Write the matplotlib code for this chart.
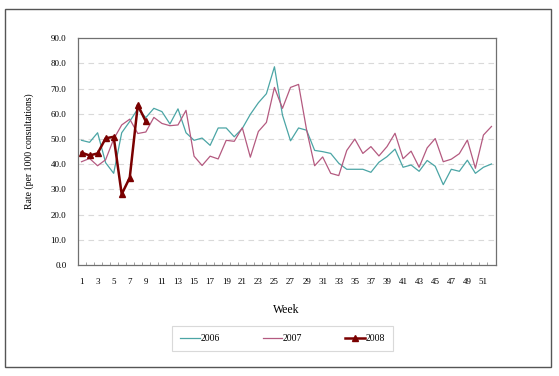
import numpy as np
import matplotlib
matplotlib.use('Agg')
import matplotlib.pyplot as plt
from matplotlib.patches import Rectangle

# Semanas e taxas por ano
weeks = np.arange(1, 53)
rate_2006 = [49.5, 48.7, 52.5, 40.6, 36.4, 52.5, 57.0, 62.0, 58.5, 62.2,
             60.9, 56.0, 62.0, 52.5, 49.5, 50.4, 47.5, 54.4, 54.4, 50.9,
             54.2, 59.8, 64.4, 68.0, 78.7, 59.5, 49.3, 54.4, 53.5, 45.5,
             45.0, 44.3, 40.4, 38.0, 38.0, 38.0, 36.8, 40.8, 43.0, 46.0,
             38.8, 39.7, 37.2, 41.5, 39.2, 31.9, 38.0, 37.2, 41.6, 36.4,
             38.8, 40.1]
rate_2007 = [41.0, 42.3, 39.4, 41.8, 50.0, 55.6, 57.9, 52.2, 52.8, 58.6,
             56.2, 55.3, 55.6, 61.4, 43.2, 39.5, 43.2, 42.1, 49.5, 49.1,
             54.5, 42.8, 53.0, 56.6, 70.5, 62.2, 70.5, 71.7, 53.6, 39.4,
             42.9, 36.4, 35.5, 45.5, 50.0, 44.3, 47.0, 43.3, 47.0, 52.3,
             42.2, 45.2, 38.8, 46.5, 50.2, 41.0, 42.0, 44.2, 49.6, 38.4,
             51.6, 55.0]
rate_2008 = [44.6, 43.5, 44.3, 50.3, 50.9, 28.1, 34.7, 63.5, 57.0]

serif = 'Liberation Serif'

fig = plt.figure(figsize=(5.59, 3.76), dpi=100)
ax = fig.add_axes([77.5 / 559, 1 - 265 / 376, 418 / 559, 226.7 / 376])

# moldura externa
fig.patches.append(Rectangle((5 / 559, 1 - 367 / 376), 546 / 559, 358 / 376,
                             transform=fig.transFigure, fill=False,
                             edgecolor='#555555', lw=1.0))

ax.plot(weeks, rate_2006, color='#4BA5A5', lw=0.9, label='2006')
ax.plot(weeks, rate_2007, color='#B45A80', lw=0.9, label='2007')
ax.plot(weeks[:len(rate_2008)], rate_2008, color='#7A0000', lw=1.8,
        marker='^', markersize=5, label='2008')

ax.set_xlim(0.5, 52.5)
ax.set_ylim(0, 90)
ax.set_yticks(np.arange(0, 91, 10))
ax.set_yticklabels([f'{v:.1f}' for v in np.arange(0, 91, 10)],
                   fontfamily=serif, fontsize=6.5)
ax.set_xticks(np.arange(1, 53, 2))
ax.set_xticklabels([str(w) for w in range(1, 53, 2)], fontfamily=serif,
                   fontsize=6.5)
ax.set_xticks(np.arange(0.5, 53, 1), minor=True)
ax.tick_params(axis='x', which='major', length=0, pad=9)
ax.tick_params(axis='x', which='minor', direction='in', length=2,
               color='#909090', width=0.6)
ax.tick_params(axis='y', length=0, pad=8)

for y in range(10, 90, 10):
    ax.axhline(y, color='#d9d9d9', lw=0.8, ls=(0, (5, 4)), zorder=0)

for s in ax.spines.values():
    s.set_color('#707070')
    s.set_linewidth(0.9)

ax.set_xlabel('Week', fontfamily=serif, fontsize=8.5)
ax.xaxis.set_label_coords(0.5, -0.172)
ax.set_ylabel('Rate (per 1000 consultations)', fontfamily=serif, fontsize=7)
ax.yaxis.set_label_coords(-0.103, 0.5)

leg = fig.legend(loc='center', ncol=3,
                 bbox_to_anchor=(282.5 / 559, 1 - 338.5 / 376),
                 prop={'family': serif, 'size': 7}, fancybox=False,
                 edgecolor='#d0d0d0', handlelength=2.0, handletextpad=0.1,
                 columnspacing=4.4, borderpad=0.8, borderaxespad=0)
leg.get_frame().set_linewidth(0.8)

plt.savefig('out.png', dpi=100)
